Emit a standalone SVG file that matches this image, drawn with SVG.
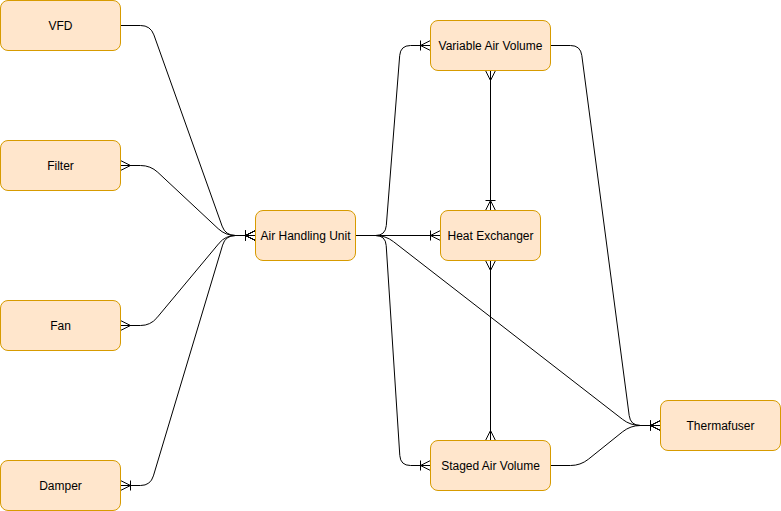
<svg xmlns="http://www.w3.org/2000/svg" width="781" height="511" viewBox="0 0 781 511">
<style>
.node rect{fill:#ffe6cc;stroke:#d79b00;stroke-width:1}
.node text{font-family:"Liberation Sans",Arial,sans-serif;font-size:12px;fill:#000;text-anchor:middle;dominant-baseline:central}
.edge{fill:none;stroke:#000;stroke-width:1}
.mk{fill:none;stroke:#000;stroke-width:1}
</style>
<defs>
<marker id="many" markerUnits="userSpaceOnUse" viewBox="-12 -7 14 14" markerWidth="14" markerHeight="14" refX="0" refY="0" orient="auto-start-reverse">
<path class="mk" d="M0,-5 L-10,0 L0,5"/>
</marker>
<marker id="oneMany" markerUnits="userSpaceOnUse" viewBox="-12 -7 14 14" markerWidth="14" markerHeight="14" refX="0" refY="0" orient="auto-start-reverse">
<path class="mk" d="M0,-5 L-10,0 L0,5 M-10,-5 V5"/>
</marker>
</defs>
<rect width="781" height="511" fill="#fff"/>
<g id="connectors" transform="translate(0.5,0.5)">
<path class="edge" d="M120,25 H140 Q150,25 153.4,34.4 L221.6,225.6 Q225,235 235,235 H255" marker-end="url(#oneMany)"/>
<path class="edge" d="M120,165 H140 Q150,165 157.3,171.8 L217.7,228.2 Q225,235 235,235 H255" marker-start="url(#many)" marker-end="url(#oneMany)"/>
<path class="edge" d="M120,325 H140 Q150,325 156.4,317.3 L218.6,242.7 Q225,235 235,235 H255" marker-start="url(#many)" marker-end="url(#oneMany)"/>
<path class="edge" d="M120,485 H140 Q150,485 152.9,475.4 L222.1,244.6 Q225,235 235,235 H255" marker-start="url(#oneMany)" marker-end="url(#oneMany)"/>
<path class="edge" d="M355,235 H375 Q385,235 385.8,225 L399.2,55 Q400,45 410,45 H430" marker-end="url(#oneMany)"/>
<path class="edge" d="M355,235 H440" marker-end="url(#oneMany)"/>
<path class="edge" d="M355,235 H375 Q385,235 385.7,245 L399.3,455 Q400,465 410,465 H430" marker-end="url(#oneMany)"/>
<path class="edge" d="M355,235 H375 Q385,235 392.9,241.1 L622.1,418.9 Q630,425 640,425 H660" marker-end="url(#oneMany)"/>
<path class="edge" d="M550,45 H570 Q580,45 581.3,54.9 L628.7,415.1 Q630,425 640,425 H660" marker-end="url(#oneMany)"/>
<path class="edge" d="M550,465 H570 Q580,465 587.8,458.8 L622.2,431.2 Q630,425 640,425 H660" marker-end="url(#oneMany)"/>
<path class="edge" d="M490,70 V210" marker-start="url(#many)" marker-end="url(#oneMany)"/>
<path class="edge" d="M490,260 V440" marker-start="url(#many)" marker-end="url(#many)"/>
</g>
<g id="vfd" class="node"><rect x="0.5" y="0.5" width="120" height="50" rx="7.5"/><text x="60.5" y="25.5">VFD</text></g>
<g id="filter" class="node"><rect x="0.5" y="140.5" width="120" height="50" rx="7.5"/><text x="60.5" y="165.5">Filter</text></g>
<g id="fan" class="node"><rect x="0.5" y="300.5" width="120" height="50" rx="7.5"/><text x="60.5" y="325.5">Fan</text></g>
<g id="damper" class="node"><rect x="0.5" y="460.5" width="120" height="50" rx="7.5"/><text x="60.5" y="485.5">Damper</text></g>
<g id="ahu" class="node"><rect x="255.5" y="210.5" width="100" height="50" rx="7.5"/><text x="305.5" y="235.5">Air Handling Unit</text></g>
<g id="vav" class="node"><rect x="430.5" y="20.5" width="120" height="50" rx="7.5"/><text x="490.5" y="45.5">Variable Air Volume</text></g>
<g id="he" class="node"><rect x="440.5" y="210.5" width="100" height="50" rx="7.5"/><text x="490.5" y="235.5">Heat Exchanger</text></g>
<g id="sav" class="node"><rect x="430.5" y="440.5" width="120" height="50" rx="7.5"/><text x="490.5" y="465.5">Staged Air Volume</text></g>
<g id="thermafuser" class="node"><rect x="660.5" y="400.5" width="120" height="50" rx="7.5"/><text x="720.5" y="425.5">Thermafuser</text></g>
</svg>
